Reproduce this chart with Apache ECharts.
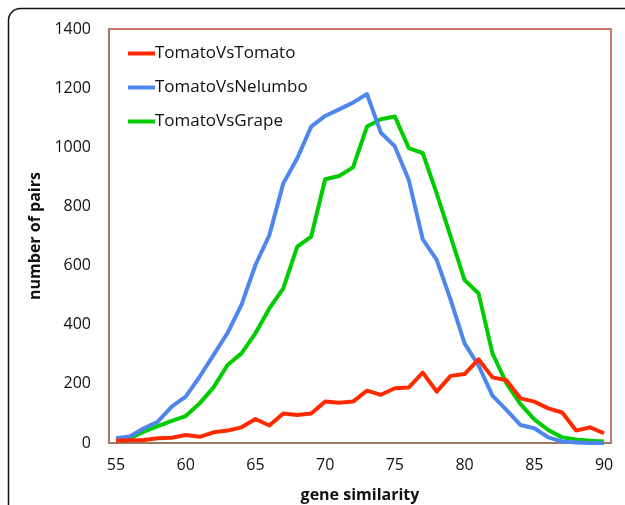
<!DOCTYPE html>
<html><head><meta charset="utf-8">
<script src="https://cdn.jsdelivr.net/npm/echarts@6/dist/echarts.min.js"></script>
<style>html,body{margin:0;padding:0;background:#fff}#c{width:625px;height:505px}</style>
</head><body><div id="c"></div>
<script>
const categories = [55,56,57,58,59,60,61,62,63,64,65,66,67,68,69,70,71,72,73,74,75,76,77,78,79,80,81,82,83,84,85,86,87,88,89,90];
const tomatoVsTomato = [8,9,10,16,18,27,21,36,42,53,81,59,100,95,100,140,136,140,177,163,185,188,238,174,227,233,283,222,212,151,140,117,103,42,53,33];
const tomatoVsNelumbo = [16,22,50,72,123,157,224,298,372,467,602,703,878,963,1070,1106,1128,1151,1180,1049,1003,889,689,619,484,337,262,160,112,61,50,19,5,2,0,0];
const tomatoVsGrape = [8,16,38,57,75,91,134,188,264,303,371,455,523,664,698,892,903,932,1070,1095,1104,997,980,844,698,551,506,303,202,132,80,44,19,12,8,5];
const seriesNames = ['TomatoVsTomato','TomatoVsNelumbo','TomatoVsGrape'];
const colors = ['#ff2a00','#4f86ee','#00cc00'];
const yTicks = [0,200,400,600,800,1000,1200,1400];

const chart = echarts.init(document.getElementById('c'), null, {renderer:'canvas'});
const font = "'Open Sans', 'Liberation Sans', sans-serif";
const mk = (name, data, i) => ({
  name, type:'line', data, showSymbol:false, symbol:'none',
  lineStyle:{width:4, color:colors[i], join:'round'}, itemStyle:{color:colors[i]}, z: 3 + (2 - i)
});
chart.setOption({
  animation:false,
  backgroundColor:'#fff',
  grid:{left:109, top:29, width:502, height:414, show:true, borderColor:'#b8473c', borderWidth:1.5, backgroundColor:'transparent', outerBoundsMode:'none', containLabel:false},
  legend:{
    orient:'vertical', left:123, top:40, itemGap:17, itemWidth:27, itemHeight:4, icon:'rect',
    textStyle:{fontFamily:font, fontSize:17, color:'#111', padding:[0,0,0,-5]},
    data:seriesNames
  },
  xAxis:{
    type:'category', data:categories, boundaryGap:true,
    name:'gene similarity', nameLocation:'middle', nameGap:44,
    nameTextStyle:{fontFamily:font, fontSize:16, fontWeight:'bold', color:'#111'},
    axisLine:{lineStyle:{color:'#a07868', width:2}},
    axisTick:{show:false},
    axisLabel:{interval:4, fontFamily:font, fontSize:16, color:'#111', margin:14}
  },
  yAxis:{
    type:'value', min:yTicks[0], max:yTicks[yTicks.length-1], interval:200,
    name:'number of pairs', nameLocation:'middle', nameGap:55, nameRotate:90,
    nameTextStyle:{fontFamily:font, fontSize:16, fontWeight:'bold', color:'#111'},
    axisLine:{show:true, lineStyle:{color:'#a07868', width:2}},
    axisTick:{show:false}, splitLine:{show:false},
    axisLabel:{fontFamily:font, fontSize:16, color:'#111', margin:18, formatter:(v)=>String(v)}
  },
  graphic:[{type:'rect', shape:{x:8.5, y:8.5, width:700, height:600, r:12}, style:{fill:'none', stroke:'#111', lineWidth:1.5}, z:100}],
  series:[mk(seriesNames[0], tomatoVsTomato, 0), mk(seriesNames[1], tomatoVsNelumbo, 1), mk(seriesNames[2], tomatoVsGrape, 2)]
});
</script></body></html>
